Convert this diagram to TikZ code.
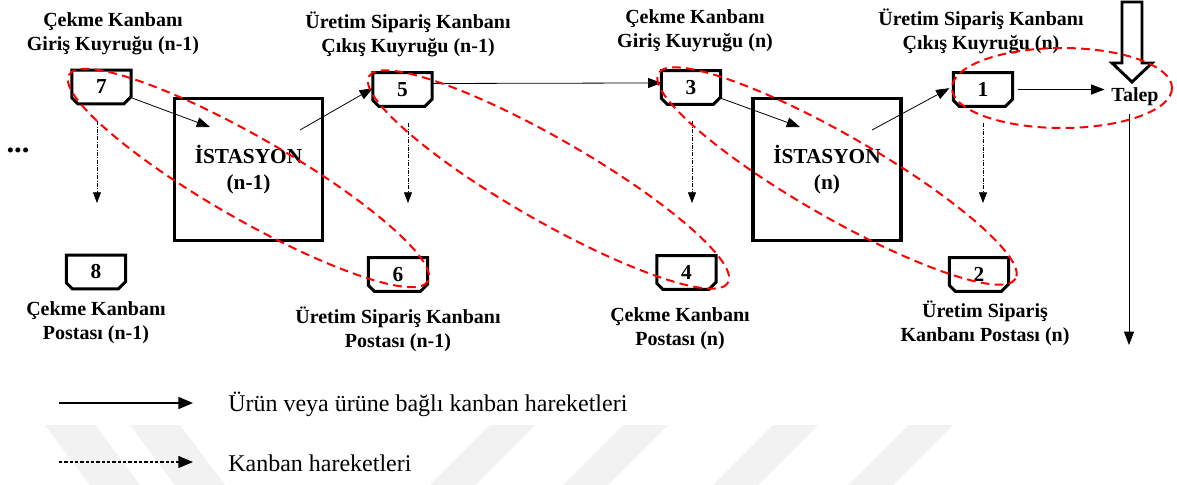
\documentclass[tikz,border=0pt]{standalone}
\usepackage{fontspec}
\setmainfont{Liberation Serif}
\usetikzlibrary{arrows.meta,calc}

\tikzset{
  kbox/.style={minimum width=44pt, minimum height=25pt, inner sep=0pt,
    font=\fontsize{16}{18}\selectfont\bfseries,
    append after command={\pgfextra{\draw[line width=2.2pt, line join=miter]
      (\tikzlastnode.north west) -- (\tikzlastnode.north east)
      -- ([yshift=5.5pt]\tikzlastnode.south east) -- ([xshift=-5.5pt]\tikzlastnode.south east)
      -- ([xshift=4.5pt]\tikzlastnode.south west) -- ([yshift=4.5pt]\tikzlastnode.south west)
      -- cycle;}}},
  station/.style={draw, line width=2.4pt, minimum width=111pt, minimum height=106.5pt,
    align=center, font=\fontsize{16}{20}\selectfont\bfseries},
  lbl/.style={align=center, inner sep=0pt, font=\fontsize{15}{18}\selectfont\bfseries},
  flow/.style={line width=0.6pt, -{Triangle[length=10pt,width=7.5pt]}},
  kmove/.style={line width=0.5pt, dash pattern=on 3pt off 1.2pt on 0.4pt off 1.2pt,
    -{Triangle[length=8pt,width=6pt]}},
  loop/.style={draw=red, line width=1.5pt, dash pattern=on 6.5pt off 4pt},
  legtext/.style={anchor=west, inner sep=0pt, font=\fontsize{18}{21}\selectfont},
  wmband/.style={fill=black!5, draw=none}
}

\begin{document}
\begin{tikzpicture}[x=0.75pt,y=-0.75pt]
\useasboundingbox (0,0) rectangle (1177,485);
\fill[white] (0,0) rectangle (1177,485);

% faint background bands
\fill[wmband] (45,425) -- (95,425) -- (140,485) -- (90,485) -- cycle;
\fill[wmband] (130,425) -- (180,425) -- (225,485) -- (175,485) -- cycle;
\fill[wmband] (490,425) -- (535,425) -- (475,485) -- (430,485) -- cycle;
\fill[wmband] (623,425) -- (668,425) -- (608,485) -- (563,485) -- cycle;
\fill[wmband] (773,425) -- (818,425) -- (758,485) -- (713,485) -- cycle;
\fill[wmband] (908,425) -- (953,425) -- (893,485) -- (848,485) -- cycle;

% work stations
\node[station] (st1) at (248.5,169.5) {İSTASYON\\(n-1)};
\node[station] (st2) at (827,169.5) {İSTASYON\\(n)};

% kanban cards
\node[kbox] (k7) at (101.5,87) {7};
\node[kbox] (k5) at (402.5,89.5) {5};
\node[kbox] (k3) at (691,87.5) {3};
\node[kbox] (k1) at (983,89.5) {1};
\node[kbox] (k8) at (96,272) {8};
\node[kbox] (k6) at (398,274.5) {6};
\node[kbox] (k4) at (686.5,272.5) {4};
\node[kbox] (k2) at (979,274.5) {2};

% queue and post labels
\node[lbl] (h7) at (113,34) {Çekme Kanbanı\\Giriş Kuyruğu (n-1)};
\node[lbl] (h5) at (408,34) {Üretim Sipariş Kanbanı\\Çıkış Kuyruğu (n-1)};
\node[lbl] (h3) at (695,31) {Çekme Kanbanı\\Giriş Kuyruğu (n)};
\node[lbl] (h1) at (981,31) {Üretim Sipariş Kanbanı\\Çıkış Kuyruğu (n)};
\node[lbl] (p8) at (96,323) {Çekme Kanbanı\\Postası (n-1)};
\node[lbl] (p6) at (398,329) {Üretim Sipariş Kanbanı\\Postası (n-1)};
\node[lbl] (p4) at (680,329) {Çekme Kanbanı\\Postası (n)};
\node[lbl] (p2) at (985,323) {Üretim Sipariş\\Kanbanı Postası (n)};

\node[lbl, font=\fontsize{23}{23}\selectfont\bfseries] (dots) at (18,150) {...};
\node[lbl] (talep) at (1135,97) {Talep};

% demand arrow
\draw[line width=2.2pt, fill=white, line join=miter]
  (1122,2) -- (1142,2) -- (1142,63) -- (1152,63) -- (1132,82) -- (1112,63) -- (1122,63) -- cycle;

% product flow
\coordinate (in1) at (210,127);
\coordinate (out1) at (300,130);
\coordinate (in2) at (800,127);
\coordinate (out2) at (872,130);
\coordinate (down) at (1129,345);
\draw[flow] ([yshift=-8pt]k7.east) -- (in1);
\draw[flow] (out1) -- ([yshift=1pt]k5.west);
\draw[flow] ([yshift=4.5pt]k5.east) -- ([yshift=3.4pt]k3.west);
\draw[flow] ([yshift=-8pt]k3.east) -- (in2);
\draw[flow] (out2) -- ([xshift=-3pt,yshift=1pt]k1.west);
\draw[flow] ([xshift=4pt]k1.east) -- ([xshift=-5pt]k1.east -| talep.west);
\draw[flow] ($(talep.south -| down)+(0,8)$) -- (down);

% kanban movements
\coordinate (d7) at (97,203);
\coordinate (d5) at (408,203);
\coordinate (d3) at (692,203);
\coordinate (d1) at (983,203);
\foreach \k in {7,5,3,1}
  \draw[kmove] ($(k\k.south -| d\k)+(0,17)$) -- (d\k);

% kanban loops
\draw[loop] (248.5,178) ellipse [x radius=207, y radius=41, rotate=-29.9];
\draw[loop] (548.5,179.5) ellipse [x radius=207, y radius=41, rotate=-29.9];
\draw[loop] (837,176) ellipse [x radius=206, y radius=41, rotate=-29.9];
\draw[loop] (1062,88) ellipse [x radius=110, y radius=40];

% legend
\coordinate (la) at (59,403);
\coordinate (lb) at (193,403);
\coordinate (lc) at (59,462);
\coordinate (ld) at (193,462);
\draw[line width=1.2pt, -{Triangle[length=11pt,width=9pt]}] (la) -- (lb);
\draw[line width=0.8pt, dash pattern=on 2.5pt off 1.5pt, -{Triangle[length=11pt,width=9pt]}] (lc) -- (ld);
\node[legtext] (t1) at (228,404) {Ürün veya ürüne bağlı kanban hareketleri};
\node[legtext] (t2) at (228,463) {Kanban hareketleri};
\end{tikzpicture}
\end{document}
